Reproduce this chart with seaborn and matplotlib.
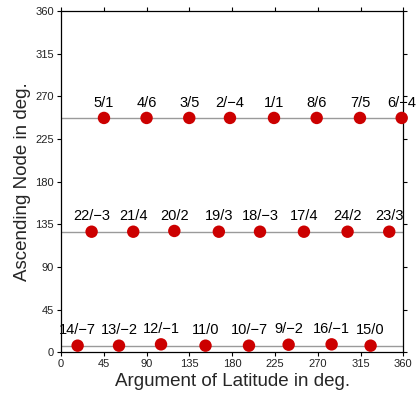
import matplotlib
matplotlib.use("Agg")
import matplotlib.pyplot as plt
import seaborn as sns
import pandas as pd

# Data: satellite slot labels, argument of latitude (deg), ascending node (deg)
labels = ["5/1", "4/6", "3/5", "2/\u22124", "1/1", "8/6", "7/5", "6/\u22124",
          "22/\u22123", "21/4", "20/2", "19/3", "18/\u22123", "17/4", "24/2", "23/3",
          "14/\u22127", "13/\u22122", "12/\u22121", "11/0", "10/\u22127", "9/\u22122", "16/\u22121", "15/0"]
arg_lat = [45.2, 90.0, 134.9, 177.7, 224.0, 268.9, 314.4, 358.3,
           32.2, 76.0, 119.2, 166.0, 209.3, 255.5, 301.4, 345.2,
           17.5, 61.0, 105.2, 152.0, 197.7, 239.4, 284.6, 325.6]
asc_node = [247.2, 247.2, 247.2, 247.2, 247.2, 247.2, 247.2, 247.2,
            127.2, 127.2, 128.0, 127.2, 127.2, 127.2, 127.2, 127.2,
            7.0, 7.0, 8.4, 7.0, 7.0, 8.0, 8.4, 7.0]
plane_nodes = [247.2, 127.2, 7.0]
ticks = [0, 45, 90, 135, 180, 225, 270, 315, 360]

df = pd.DataFrame({"label": labels, "u": arg_lat, "omega": asc_node})

sns.set_theme(style="ticks")
plt.rcParams["font.family"] = ["Liberation Sans", "DejaVu Sans"]

fig = plt.figure(figsize=(4.16, 3.98), dpi=100)
ax = fig.add_axes([0.1466, 0.1148, 0.8229, 0.8576])

for yv in plane_nodes:
    ax.axhline(yv, color="#9a9a9a", lw=1.0, zorder=1)

sns.scatterplot(data=df, x="u", y="omega", ax=ax, color="#cc0000",
                s=80, edgecolor="none", zorder=3, clip_on=False, legend=False)

for _, r in df.iterrows():
    ax.annotate(r["label"], (r["u"], r["omega"]), xytext=(0, 6),
                textcoords="offset points", ha="center", va="bottom",
                fontsize=10.5, color="black")

ax.set_xlim(0, 360)
ax.set_ylim(0, 360)
ax.set_xticks(ticks)
ax.set_yticks(ticks)
ax.tick_params(axis="both", which="both", direction="out", length=3, width=0.8,
               labelsize=8, top=True, right=True, labeltop=False, labelright=False,
               colors="black", labelcolor="#222222", pad=2)
for s in ax.spines.values():
    s.set_visible(True)
    s.set_color("black")
    s.set_linewidth(0.9)

ax.set_xlabel("Argument of Latitude in deg.", fontsize=13.5, labelpad=3)
ax.set_ylabel("Ascending Node in deg.", fontsize=13.5, labelpad=3)

fig.savefig("out.png", dpi=100)
